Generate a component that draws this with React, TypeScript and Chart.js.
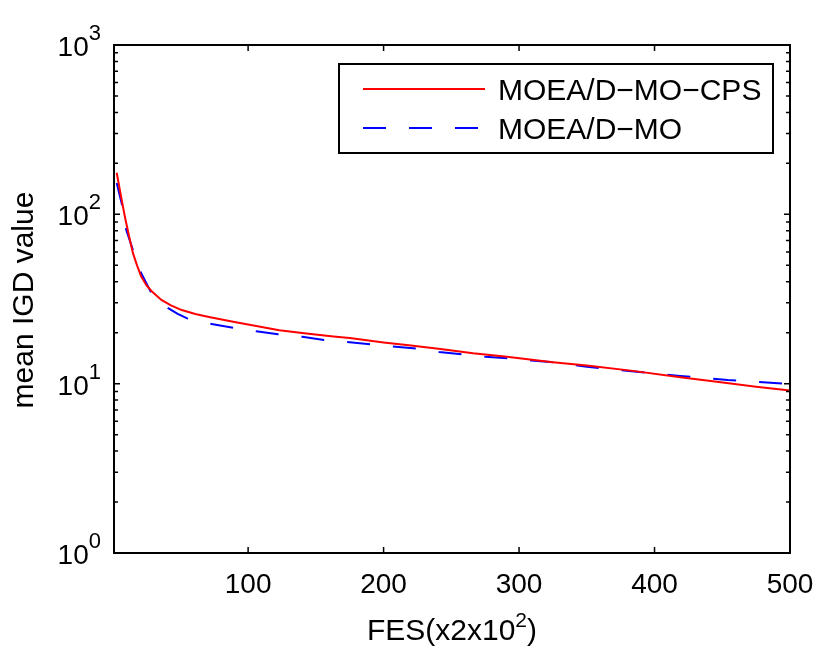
import React, { useEffect, useRef } from "react";
import { Chart, registerables } from "chart.js";

Chart.register(...registerables);

const seriesNames = ["MOEA/D\u2212MO\u2212CPS", "MOEA/D\u2212MO"];
const seriesColors = ["#ff0000", "#0000ff"];

const cpsX = [3, 6, 9, 12, 15, 18, 21, 25, 29, 36, 43, 51, 61, 72, 89, 106, 123, 143, 163, 175, 200, 217, 242, 266, 291, 325, 350, 384, 419, 446, 475, 500];
const cpsY = [176, 130, 97, 75, 59, 50, 43, 38, 35, 31.2, 29, 27.2, 25.8, 24.7, 23.2, 21.9, 20.7, 19.8, 19.0, 18.6, 17.5, 16.9, 16.0, 15.1, 14.4, 13.4, 12.8, 11.9, 10.9, 10.25, 9.6, 9.1];

const moX = [3, 7, 10, 15, 21, 28, 34, 41, 48, 55, 63, 73, 89, 106, 122, 140, 156, 173, 190, 207, 224, 241, 258, 275, 292, 309, 325, 350, 385, 419, 454, 480, 500];
const moY = [153, 113, 81, 61.5, 45, 35, 31, 27.9, 25.8, 24.3, 23.3, 22.5, 21.4, 20.4, 19.6, 18.9, 18.1, 17.6, 17.1, 16.6, 16.1, 15.4, 14.9, 14.4, 14.1, 13.7, 13.4, 12.6, 11.8, 11.1, 10.5, 10.2, 9.96];

const xMin = 1;
const xMax = 500;
const yMin = 1;
const yMax = 1000;
const xTicks = [100, 200, 300, 400, 500];
const yMajorTicks = [1, 10, 100, 1000];
const yMajorExp = ["0", "1", "2", "3"];
const yMinorTicks = [2, 3, 4, 5, 6, 7, 8, 9, 20, 30, 40, 50, 60, 70, 80, 90, 200, 300, 400, 500, 600, 700, 800, 900];

const xTitleMain = "FES(x2x10";
const xTitleSup = "2";
const xTitleEnd = ")";
const yTitle = "mean IGD value";

const FONT = '"Liberation Sans", Arial, Helvetica, sans-serif';

const axesPlugin = {
  id: "matlabAxes",
  afterDraw(chart: any) {
    const { ctx, chartArea: a, scales } = chart;
    const x = scales.x;
    const y = scales.y;
    ctx.save();
    ctx.strokeStyle = "#000";
    ctx.fillStyle = "#000";

    // ticks
    ctx.lineWidth = 1.5;
    ctx.beginPath();
    for (const t of xTicks) {
      const px = x.getPixelForValue(t);
      ctx.moveTo(px, a.bottom);
      ctx.lineTo(px, a.bottom - 6);
      ctx.moveTo(px, a.top);
      ctx.lineTo(px, a.top + 6);
    }
    for (const t of yMajorTicks) {
      const py = y.getPixelForValue(t);
      ctx.moveTo(a.left, py);
      ctx.lineTo(a.left + 6, py);
      ctx.moveTo(a.right, py);
      ctx.lineTo(a.right - 6, py);
    }
    for (const t of yMinorTicks) {
      const py = y.getPixelForValue(t);
      ctx.moveTo(a.left, py);
      ctx.lineTo(a.left + 4, py);
      ctx.moveTo(a.right, py);
      ctx.lineTo(a.right - 4, py);
    }
    ctx.stroke();

    // frame
    ctx.lineWidth = 2;
    ctx.strokeRect(a.left, a.top, a.right - a.left, a.bottom - a.top);

    // x tick labels
    ctx.font = `28px ${FONT}`;
    ctx.textAlign = "center";
    ctx.textBaseline = "alphabetic";
    for (const t of xTicks) {
      ctx.fillText(String(t), x.getPixelForValue(t), a.bottom + 40);
    }

    // y tick labels (10^n)
    yMajorTicks.forEach((t, i) => {
      const py = y.getPixelForValue(t);
      ctx.font = `22px ${FONT}`;
      const wSup = ctx.measureText(yMajorExp[i]).width;
      const supRight = a.left - 13;
      const supLeft = supRight - wSup;
      ctx.textAlign = "left";
      ctx.fillText(yMajorExp[i], supLeft, py - 5);
      ctx.font = `28px ${FONT}`;
      ctx.textAlign = "right";
      ctx.fillText("10", supLeft, py + 11);
    });

    // x title
    ctx.textAlign = "left";
    ctx.font = `30px ${FONT}`;
    const w1 = ctx.measureText(xTitleMain).width;
    const w3 = ctx.measureText(xTitleEnd).width;
    ctx.font = `21px ${FONT}`;
    const w2 = ctx.measureText(xTitleSup).width;
    const cx = (a.left + a.right) / 2;
    let sx = cx - (w1 + w2 + w3) / 2;
    const by = a.bottom + 87;
    ctx.font = `30px ${FONT}`;
    ctx.fillText(xTitleMain, sx, by);
    sx += w1;
    ctx.font = `21px ${FONT}`;
    ctx.fillText(xTitleSup, sx, by - 13);
    sx += w2;
    ctx.font = `30px ${FONT}`;
    ctx.fillText(xTitleEnd, sx, by);

    // y title
    ctx.save();
    ctx.translate(33, (a.top + a.bottom) / 2 + 1);
    ctx.rotate(-Math.PI / 2);
    ctx.textAlign = "center";
    ctx.font = `30px ${FONT}`;
    ctx.fillText(yTitle, 0, 0);
    ctx.restore();

    // legend
    const lw = 434;
    const lh = 89;
    const lx = a.right - 17 - lw;
    const ly = a.top + 19;
    ctx.fillStyle = "#fff";
    ctx.fillRect(lx, ly, lw, lh);
    ctx.lineWidth = 2;
    ctx.strokeStyle = "#000";
    ctx.strokeRect(lx, ly, lw, lh);
    const rows = [25, 64];
    chart.data.datasets.forEach((ds: any, i: number) => {
      const yy = ly + rows[i];
      ctx.save();
      ctx.strokeStyle = ds.borderColor;
      ctx.lineWidth = 2;
      ctx.setLineDash(ds.borderDash || []);
      ctx.beginPath();
      ctx.moveTo(lx + 24, yy);
      ctx.lineTo(lx + 146, yy);
      ctx.stroke();
      ctx.restore();
      ctx.fillStyle = "#000";
      ctx.font = `30px ${FONT}`;
      ctx.textAlign = "left";
      ctx.fillText(ds.label, lx + 159, yy + 11);
    });

    ctx.restore();
  },
};

export default function App() {
  const ref = useRef<HTMLCanvasElement>(null);
  useEffect(() => {
    if (!ref.current) return;
    const chart = new Chart(ref.current, {
      type: "line",
      data: {
        datasets: [
          {
            label: seriesNames[0],
            data: cpsX.map((v, i) => ({ x: v, y: cpsY[i] })),
            borderColor: seriesColors[0],
            borderWidth: 2,
            pointRadius: 0,
            fill: false,
            tension: 0,
          },
          {
            label: seriesNames[1],
            data: moX.map((v, i) => ({ x: v, y: moY[i] })),
            borderColor: seriesColors[1],
            borderWidth: 2,
            borderDash: [23, 23],
            pointRadius: 0,
            fill: false,
            tension: 0,
          },
        ],
      },
      options: {
        animation: false,
        responsive: false,
        devicePixelRatio: 1,
        layout: { padding: { left: 114, top: 45, right: 40, bottom: 97 } },
        scales: {
          x: { type: "linear", min: xMin, max: xMax, display: false },
          y: { type: "logarithmic", min: yMin, max: yMax, display: false },
        },
        plugins: {
          legend: { display: false },
          tooltip: { enabled: false },
        },
      },
      plugins: [axesPlugin],
    });
    return () => chart.destroy();
  }, []);
  return (
    <div style={{ position: "fixed", left: 0, top: 0, width: 830, height: 650, background: "#fff" }}>
      <canvas ref={ref} width={830} height={650} style={{ width: 830, height: 650 }} />
    </div>
  );
}
